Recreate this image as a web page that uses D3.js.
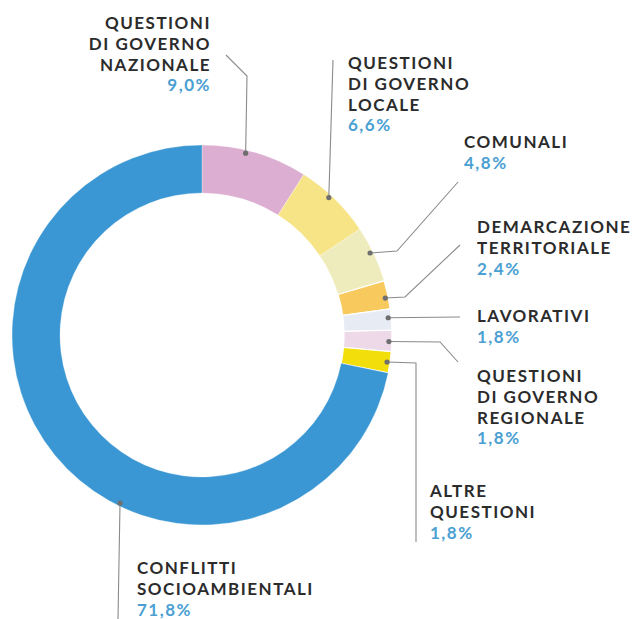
<!DOCTYPE html>
<html>
<head>
<meta charset="utf-8">
<script src="https://cdn.jsdelivr.net/npm/d3@7"></script>
<style>
  body { margin: 0; background: #fff; }
  svg { display: block; }
  .lbl { font-family: Lato, sans-serif; font-weight: 700; font-size: 17px; letter-spacing: 1.5px; fill: #2b2b2b; }
  .pct { fill: #4aa0d2; }
</style>
</head>
<body>
<div id="chart"></div>
<script>
// dati
const categories = [
  "QUESTIONI DI GOVERNO NAZIONALE",
  "QUESTIONI DI GOVERNO LOCALE",
  "COMUNALI",
  "DEMARCAZIONE TERRITORIALE",
  "LAVORATIVI",
  "QUESTIONI DI GOVERNO REGIONALE",
  "ALTRE QUESTIONI",
  "CONFLITTI SOCIOAMBIENTALI"
];
const values = [9.0, 6.6, 4.8, 2.4, 1.8, 1.8, 1.8, 71.8];
const labelLines = [
  ["QUESTIONI", "DI GOVERNO", "NAZIONALE"],
  ["QUESTIONI", "DI GOVERNO", "LOCALE"],
  ["COMUNALI"],
  ["DEMARCAZIONE", "TERRITORIALE"],
  ["LAVORATIVI"],
  ["QUESTIONI", "DI GOVERNO", "REGIONALE"],
  ["ALTRE", "QUESTIONI"],
  ["CONFLITTI", "SOCIOAMBIENTALI"]
];
const colors = ["#dcaed2", "#f6e487", "#eeecbc", "#f8c95c", "#e7ebf3", "#eed9e8", "#f1de0a", "#3a97d3"];

// layout etichette: x,y = prima riga, anchor, linea guida (punti dopo il pallino)
const layout = [
  { x: 211, y: 29, anchor: "end", dotAngle: 13.5, path: [[247, 76], [226, 55]] },
  { x: 348, y: 69, anchor: "start", dotAngle: 42.7, path: [[333, 60]] },
  { x: 464, y: 148, anchor: "start", dotAngle: 64, path: [[397, 251], [458, 182]] },
  { x: 477, y: 233, anchor: "start", dotAngle: 78.6, path: [[405, 297], [460, 245]] },
  { x: 477, y: 322, anchor: "start", dotAngle: 84.7, path: [[460, 317]] },
  { x: 477, y: 382, anchor: "start", dotAngle: 92, path: [[440, 342], [458, 362]] },
  { x: 430, y: 497, anchor: "start", dotAngle: 98.3, path: [[416, 363], [416, 542]] },
  { x: 137, y: 574, anchor: "start", dotAngle: 206, path: [[118, 619]] }
];

const width = 638, height = 619;
const cx = 202, cy = 335, outerR = 190, innerR = 142, dotR = 187;
const lineH = 20.8;

const svg = d3.select("#chart").append("svg")
  .attr("width", width)
  .attr("height", height);

const data = categories.map((c, i) => ({ name: c, value: values[i], i }));

const pie = d3.pie().sort(null).value(d => d.value);
const arc = d3.arc().innerRadius(innerR).outerRadius(outerR);

const g = svg.append("g").attr("transform", `translate(${cx},${cy})`);

g.selectAll("path")
  .data(pie(data))
  .enter()
  .append("path")
  .attr("d", arc)
  .attr("fill", d => colors[d.data.i])
  .attr("stroke", "#fff")
  .attr("stroke-width", d => d.data.value < 3 ? 1.2 : 0.3);

// linee guida
const polar = a => {
  const r = a * Math.PI / 180;
  return [cx + dotR * Math.sin(r), cy - dotR * Math.cos(r)];
};

layout.forEach((l, i) => {
  const p0 = polar(l.dotAngle);
  const pts = [p0].concat(l.path);
  svg.append("path")
    .attr("d", d3.line()(pts))
    .attr("fill", "none")
    .attr("stroke", "#8a8a8a")
    .attr("stroke-width", 1.1);
  svg.append("circle")
    .attr("cx", p0[0])
    .attr("cy", p0[1])
    .attr("r", 2.6)
    .attr("fill", "#6f6f6f");

  const t = svg.append("text")
    .attr("class", "lbl")
    .attr("text-anchor", l.anchor);
  labelLines[i].forEach((s, k) => {
    t.append("tspan")
      .attr("x", l.x)
      .attr("y", l.y + k * lineH)
      .text(s);
  });
  t.append("tspan")
    .attr("class", "pct")
    .attr("x", l.x)
    .attr("y", l.y + labelLines[i].length * lineH)
    .text(d3.format(".1f")(values[i]).replace(".", ",") + "%");
});
</script>
</body>
</html>
